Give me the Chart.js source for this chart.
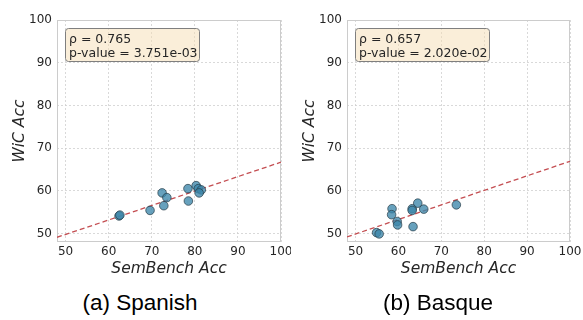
<!DOCTYPE html>
<html lang="en">
<head>
  <meta charset="utf-8">
  <title>WiC vs SemBench</title>
  <script type="text/javascript" src="https://cdn.jsdelivr.net/npm/chart.js"></script>
  <style type="text/css">
    body { margin:0; background:#fff; width:583px; height:320px; position:relative; overflow:hidden; }
    .panel { position:absolute; top:0; height:280px; }
    .caption { position:absolute; top:290px; font-family:"Liberation Sans", Arial, sans-serif; font-size:22.5px; color:#000; transform:translateX(-50%); white-space:nowrap; }
  </style>
</head>
<body>

  <div class="panel" style="left:0; width:291px;"><canvas id="chartA"></canvas></div>
  <div class="panel" style="left:290px; width:293px;"><canvas id="chartB"></canvas></div>
  <div class="caption" style="left:140px;">(a) Spanish</div>
  <div class="caption" style="left:438px;">(b) Basque</div>

  <script type="text/javascript">
    const tickValues = [50, 60, 70, 80, 90, 100];

    // Spanish
    const spanishX = [62.4, 62.6, 69.6, 72.4, 72.8, 73.5, 78.4, 78.5, 80.3, 80.8, 81.5, 81.0];
    const spanishY = [54.1, 54.3, 55.4, 59.5, 56.5, 58.4, 60.5, 57.6, 61.2, 60.5, 60.2, 59.5];
    const spanishFitX = [48, 100];
    const spanishFitY = [49.1, 66.7];
    const spanishStats = ['ρ = 0.765', 'p-value = 3.751e-03'];

    // Basque
    const basqueX = [54.9, 55.5, 58.5, 58.4, 59.7, 59.8, 63.2, 63.2, 63.4, 64.5, 65.9, 73.5];
    const basqueY = [50.2, 49.9, 55.8, 54.4, 52.8, 52.0, 55.8, 55.4, 51.6, 57.1, 55.7, 56.7];
    const basqueFitX = [48, 100];
    const basqueFitY = [49.2, 66.9];
    const basqueStats = ['ρ = 0.657', 'p-value = 2.020e-02'];

    const frame = {
      id: 'frame',
      beforeDatasetsDraw(chart) {
        const { ctx, chartArea: a } = chart;
        ctx.save();
        ctx.strokeStyle = '#cccccc';
        ctx.lineWidth = 1;
        ctx.strokeRect(a.left + 0.5, a.top + 0.5, a.right - a.left - 1, a.bottom - a.top - 1);
        ctx.restore();
      },
      afterDatasetsDraw(chart, args, opts) {
        const { ctx, chartArea: a } = chart;
        const x = a.left + 8, y = a.top + 8, w = 134, h = 33;
        ctx.save();
        ctx.beginPath();
        ctx.roundRect(x + 0.5, y + 0.5, w, h, 3);
        ctx.fillStyle = 'rgba(245,222,179,0.5)';
        ctx.fill();
        ctx.strokeStyle = '#7f7f7f';
        ctx.lineWidth = 1;
        ctx.stroke();
        ctx.fillStyle = '#262626';
        ctx.font = '12.5px "DejaVu Sans"';
        ctx.textBaseline = 'alphabetic';
        ctx.fillText(opts.lines[0], x + 4, y + 15);
        ctx.fillText(opts.lines[1], x + 4, y + 29);
        ctx.restore();
      }
    };

    const makeChart = (id, xs, ys, fitX, fitY, lines, rightPad) => {
      const tickFont = { family: 'DejaVu Sans', size: 12 };
      const titleFont = { family: 'DejaVu Sans', size: 15.5, style: 'italic' };
      new Chart(document.getElementById(id), {
        type: 'scatter',
        data: {
          datasets: [
            {
              data: xs.map((x, i) => ({ x, y: ys[i] })),
              backgroundColor: 'rgba(60,135,170,0.78)',
              borderColor: 'rgba(35,55,65,0.85)',
              borderWidth: 0.8,
              pointRadius: 4.3,
              order: 1
            },
            {
              type: 'line',
              data: fitX.map((x, i) => ({ x, y: fitY[i] })),
              borderColor: '#c44e52',
              borderWidth: 1.3,
              borderDash: [5, 3],
              pointRadius: 0,
              fill: false,
              order: 2
            }
          ]
        },
        options: {
          responsive: true,
          maintainAspectRatio: false,
          animation: false,
          layout: { autoPadding: false, padding: { top: 20, right: rightPad, left: 0, bottom: 0 } },
          plugins: { legend: { display: false }, tooltip: { enabled: false }, frame: { lines } },
          scales: {
            x: {
              type: 'linear', min: 48, max: 100,
              afterBuildTicks: s => { s.ticks = tickValues.map(v => ({ value: v })); },
              afterFit: s => { s.height = 38; s.paddingLeft = 0; s.paddingRight = 0; },
              grid: { color: '#d0d0d0', lineWidth: 0.8, drawTicks: false },
              border: { display: false, dash: [2, 2] },
              ticks: { font: tickFont, color: '#262626', padding: 3, maxRotation: 0 },
              title: { display: true, text: 'SemBench Acc', font: titleFont, color: '#262626', padding: { top: 0, bottom: 2 } }
            },
            y: {
              type: 'linear', min: 48, max: 100,
              afterBuildTicks: s => { s.ticks = tickValues.map(v => ({ value: v })); },
              afterFit: s => { s.width = 57; s.paddingTop = 0; s.paddingBottom = 0; },
              grid: { color: '#d0d0d0', lineWidth: 0.8, drawTicks: false },
              border: { display: false, dash: [2, 2] },
              ticks: { font: tickFont, color: '#262626', padding: 5 },
              title: { display: true, text: 'WiC Acc', font: titleFont, color: '#262626', padding: { top: 11, bottom: 0 } }
            }
          }
        },
        plugins: [frame]
      });
    };

    makeChart('chartA', spanishX, spanishY, spanishFitX, spanishFitY, spanishStats, 10);
    makeChart('chartB', basqueX, basqueY, basqueFitX, basqueFitY, basqueStats, 13);
  </script>

</body>
</html>
